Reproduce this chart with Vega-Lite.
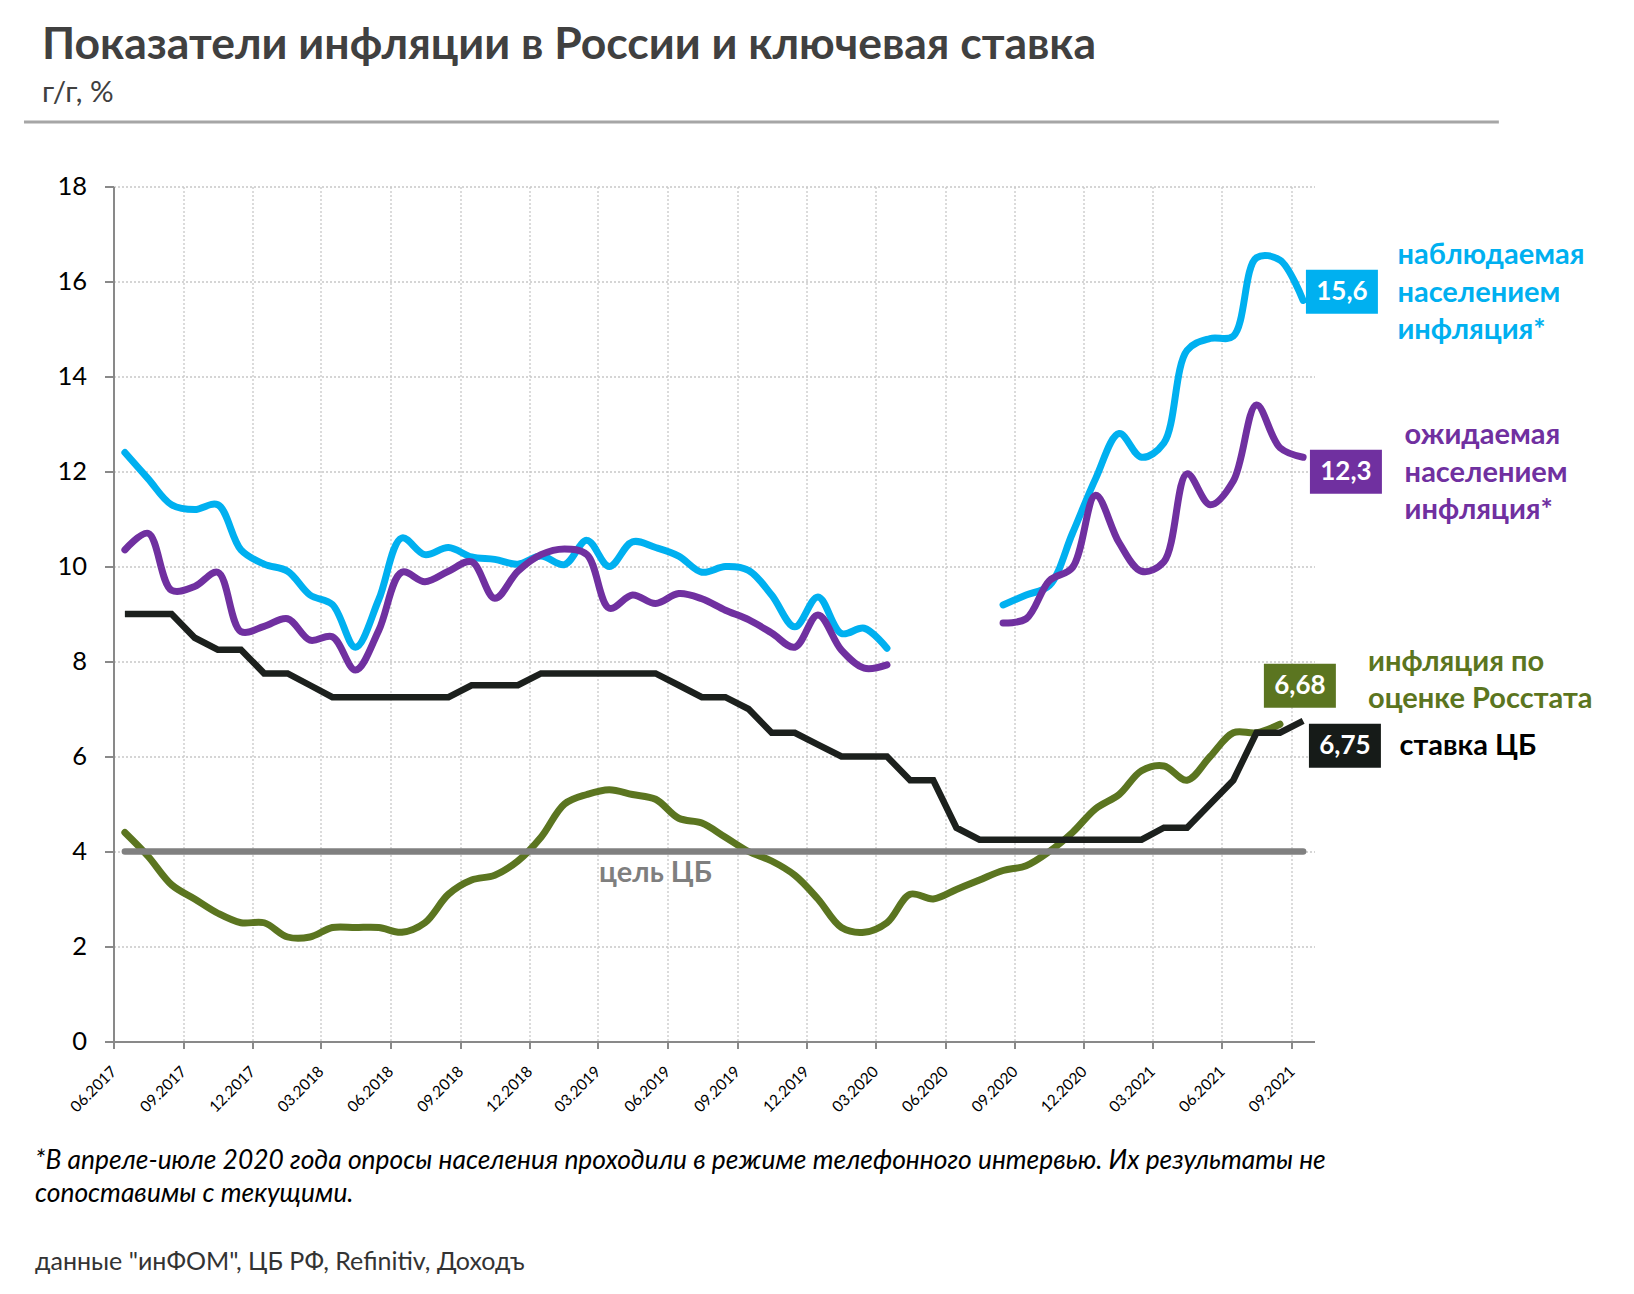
{
  "$schema": "https://vega.github.io/schema/vega-lite/v6.json",
  "autosize": {"type": "none"},
  "width": 1201,
  "height": 855,
  "padding": {"left": 113.5, "top": 186.5, "right": 319.5, "bottom": 252.5},
  "background": "white",
  "config": {"view": {"stroke": null}, "font": "Lato"},
  "title": {
    "text": "Показатели инфляции в России и ключевая ставка",
    "subtitle": "г/г, %",
    "anchor": "start",
    "frame": "group",
    "dx": -71.5,
    "offset": 12,
    "font": "Lato",
    "fontSize": 44.5,
    "fontWeight": "bold",
    "color": "#404040",
    "subtitleFont": "Lato",
    "subtitleFontSize": 29.5,
    "subtitleColor": "#404040",
    "subtitlePadding": 10
  },
  "datasets": {
    "monthly": [
      {"month":"2017-06","key":9,"cpi":4.4,"obs":12.4,"exp":10.35,"wave":1},
      {"month":"2017-07","key":9,"cpi":3.9,"obs":11.85,"exp":10.7,"wave":1},
      {"month":"2017-08","key":9,"cpi":3.3,"obs":11.3,"exp":9.5,"wave":1},
      {"month":"2017-09","key":8.5,"cpi":3.0,"obs":11.2,"exp":9.58,"wave":1},
      {"month":"2017-10","key":8.25,"cpi":2.7,"obs":11.3,"exp":9.88,"wave":1},
      {"month":"2017-11","key":8.25,"cpi":2.5,"obs":10.35,"exp":8.63,"wave":1},
      {"month":"2017-12","key":7.75,"cpi":2.5,"obs":10.05,"exp":8.74,"wave":1},
      {"month":"2018-01","key":7.75,"cpi":2.2,"obs":9.9,"exp":8.9,"wave":1},
      {"month":"2018-02","key":7.5,"cpi":2.2,"obs":9.4,"exp":8.45,"wave":1},
      {"month":"2018-03","key":7.25,"cpi":2.4,"obs":9.2,"exp":8.52,"wave":1},
      {"month":"2018-04","key":7.25,"cpi":2.4,"obs":8.3,"exp":7.82,"wave":1},
      {"month":"2018-05","key":7.25,"cpi":2.4,"obs":9.3,"exp":8.65,"wave":1},
      {"month":"2018-06","key":7.25,"cpi":2.3,"obs":10.6,"exp":9.88,"wave":1},
      {"month":"2018-07","key":7.25,"cpi":2.5,"obs":10.25,"exp":9.68,"wave":1},
      {"month":"2018-08","key":7.25,"cpi":3.1,"obs":10.4,"exp":9.9,"wave":1},
      {"month":"2018-09","key":7.5,"cpi":3.4,"obs":10.2,"exp":10.1,"wave":1},
      {"month":"2018-10","key":7.5,"cpi":3.5,"obs":10.15,"exp":9.33,"wave":1},
      {"month":"2018-11","key":7.5,"cpi":3.8,"obs":10.05,"exp":9.9,"wave":1},
      {"month":"2018-12","key":7.75,"cpi":4.3,"obs":10.22,"exp":10.25,"wave":1},
      {"month":"2019-01","key":7.75,"cpi":5.0,"obs":10.04,"exp":10.37,"wave":1},
      {"month":"2019-02","key":7.75,"cpi":5.2,"obs":10.55,"exp":10.25,"wave":1},
      {"month":"2019-03","key":7.75,"cpi":5.3,"obs":10.0,"exp":9.12,"wave":1},
      {"month":"2019-04","key":7.75,"cpi":5.2,"obs":10.52,"exp":9.4,"wave":1},
      {"month":"2019-05","key":7.75,"cpi":5.1,"obs":10.4,"exp":9.22,"wave":1},
      {"month":"2019-06","key":7.5,"cpi":4.7,"obs":10.22,"exp":9.43,"wave":1},
      {"month":"2019-07","key":7.25,"cpi":4.6,"obs":9.88,"exp":9.32,"wave":1},
      {"month":"2019-08","key":7.25,"cpi":4.3,"obs":10.0,"exp":9.08,"wave":1},
      {"month":"2019-09","key":7.0,"cpi":4.0,"obs":9.92,"exp":8.88,"wave":1},
      {"month":"2019-10","key":6.5,"cpi":3.8,"obs":9.4,"exp":8.6,"wave":1},
      {"month":"2019-11","key":6.5,"cpi":3.5,"obs":8.73,"exp":8.3,"wave":1},
      {"month":"2019-12","key":6.25,"cpi":3.0,"obs":9.36,"exp":8.98,"wave":1},
      {"month":"2020-01","key":6.0,"cpi":2.4,"obs":8.59,"exp":8.24,"wave":1},
      {"month":"2020-02","key":6.0,"cpi":2.3,"obs":8.7,"exp":7.86,"wave":1},
      {"month":"2020-03","key":6.0,"cpi":2.5,"obs":8.28,"exp":7.93,"wave":1},
      {"month":"2020-04","key":5.5,"cpi":3.1,"obs":null,"exp":null},
      {"month":"2020-05","key":5.5,"cpi":3.0,"obs":null,"exp":null},
      {"month":"2020-06","key":4.5,"cpi":3.2,"obs":null,"exp":null},
      {"month":"2020-07","key":4.25,"cpi":3.4,"obs":null,"exp":null},
      {"month":"2020-08","key":4.25,"cpi":3.6,"obs":9.19,"exp":8.81,"wave":2},
      {"month":"2020-09","key":4.25,"cpi":3.7,"obs":9.4,"exp":8.9,"wave":2},
      {"month":"2020-10","key":4.25,"cpi":4.0,"obs":9.6,"exp":9.7,"wave":2},
      {"month":"2020-11","key":4.25,"cpi":4.4,"obs":10.7,"exp":9.98,"wave":2},
      {"month":"2020-12","key":4.25,"cpi":4.9,"obs":11.85,"exp":11.5,"wave":2},
      {"month":"2021-01","key":4.25,"cpi":5.2,"obs":12.8,"exp":10.5,"wave":2},
      {"month":"2021-02","key":4.25,"cpi":5.7,"obs":12.3,"exp":9.9,"wave":2},
      {"month":"2021-03","key":4.5,"cpi":5.8,"obs":12.6,"exp":10.1,"wave":2},
      {"month":"2021-04","key":4.5,"cpi":5.5,"obs":14.55,"exp":11.95,"wave":2},
      {"month":"2021-05","key":5.0,"cpi":6.0,"obs":14.8,"exp":11.3,"wave":2},
      {"month":"2021-06","key":5.5,"cpi":6.5,"obs":14.85,"exp":11.8,"wave":2},
      {"month":"2021-07","key":6.5,"cpi":6.5,"obs":16.5,"exp":13.4,"wave":2},
      {"month":"2021-08","key":6.5,"cpi":6.68,"obs":16.45,"exp":12.5,"wave":2},
      {"month":"2021-09","key":6.75,"cpi":null,"obs":15.6,"exp":12.3,"wave":2}
    ],
    "goal": [
      {"month":"2017-06","value":4},
      {"month":"2021-09","value":4}
    ],
    "note": [
      {"month":"2019-05","value":4,"label":"цель ЦБ"}
    ],
    "labels": [
      {"series":"obs","month":"2021-09","value":15.6,"label":"15,6","name":"наблюдаемая\nнаселением\nинфляция*"},
      {"series":"exp","month":"2021-09","value":12.3,"label":"12,3","name":"ожидаемая\nнаселением\nинфляция*"},
      {"series":"cpi","month":"2021-08","value":6.68,"label":"6,68","name":"инфляция по\nоценке Росстата"},
      {"series":"key","month":"2021-09","value":6.75,"label":"6,75","name":"ставка ЦБ"}
    ]
  },
  "layer": [
    {
      "data": {"name": "monthly"},
      "encoding": {
        "x": {
          "field": "month",
          "timeUnit": "utcyearmonth",
          "type": "temporal",
          "bandPosition": 0.5,
          "scale": {"type": "utc", "domain": [{"year":2017,"month":6,"utc":true},{"year":2021,"month":10,"utc":true}]},
          "axis": {
            "values": [
              {"year":2017,"month":6,"utc":true},{"year":2017,"month":9,"utc":true},{"year":2017,"month":12,"utc":true},
              {"year":2018,"month":3,"utc":true},{"year":2018,"month":6,"utc":true},{"year":2018,"month":9,"utc":true},{"year":2018,"month":12,"utc":true},
              {"year":2019,"month":3,"utc":true},{"year":2019,"month":6,"utc":true},{"year":2019,"month":9,"utc":true},{"year":2019,"month":12,"utc":true},
              {"year":2020,"month":3,"utc":true},{"year":2020,"month":6,"utc":true},{"year":2020,"month":9,"utc":true},{"year":2020,"month":12,"utc":true},
              {"year":2021,"month":3,"utc":true},{"year":2021,"month":6,"utc":true},{"year":2021,"month":9,"utc":true}
            ],
            "format": "%m.%Y",
            "labelExpr": "utcFormat(datum.value, '%m.%Y')",
            "labelAngle": -45,
            "labelAlign": "right",
            "labelBaseline": "middle",
            "labelFont": "Lato",
            "labelFontSize": 15.5,
            "labelColor": "#000000",
            "labelPadding": 20,
            "labelOverlap": false,
            "labelFlush": false,
            "tickSize": 7,
            "tickColor": "#898989",
            "tickWidth": 2,
            "domainColor": "#898989",
            "domainWidth": 2,
            "grid": true,
            "gridColor": "#c8c8c8",
            "gridDash": [2, 2],
            "gridWidth": 1.3,
            "title": ["*В апреле-июле 2020 года опросы населения проходили в режиме телефонного интервью. Их результаты не", "сопоставимы с текущими."],
            "titleX": -79,
            "titleY": 106,
            "titleAlign": "left",
            "titleBaseline": "top",
            "titleFont": "Lato",
            "titleFontSize": 26.4,
            "titleFontStyle": "italic",
            "titleFontWeight": "normal",
            "titleColor": "#000000",
            "titleLineHeight": 33
          }
        },
        "y": {
          "field": "value",
          "type": "quantitative",
          "scale": {"domain": [0, 18], "nice": false, "zero": true},
          "axis": {
            "values": [0, 2, 4, 6, 8, 10, 12, 14, 16, 18],
            "labelFont": "Lato",
            "labelFontSize": 25.5,
            "labelColor": "#000000",
            "labelPadding": 18,
            "tickSize": 9,
            "tickColor": "#898989",
            "tickWidth": 2,
            "domainColor": "#898989",
            "domainWidth": 2,
            "grid": true,
            "gridColor": "#c8c8c8",
            "gridDash": [2, 2],
            "gridWidth": 1.3,
            "title": "данные \"инФОМ\", ЦБ РФ, Refinitiv, Доходъ",
            "titleAngle": 0,
            "titleX": -79,
            "titleY": 1074.5,
            "titleAlign": "left",
            "titleBaseline": "middle",
            "titleFont": "Lato",
            "titleFontSize": 25,
            "titleFontWeight": "normal",
            "titleColor": "#333333"
          }
        }
      },
      "layer": [
        {
          "transform": [{"fold": ["cpi"], "as": ["series", "value"]}, {"filter": "isValid(datum.value)"}],
          "mark": {"type": "line", "color": "#5b7520", "strokeWidth": 7, "interpolate": "catmull-rom", "strokeCap": "round"}
        },
        {
          "data": {"name": "goal"},
          "mark": {"type": "line", "color": "#808080", "strokeWidth": 6.5, "strokeCap": "round"}
        },
        {
          "transform": [{"fold": ["key"], "as": ["series", "value"]}, {"filter": "isValid(datum.value)"}],
          "mark": {"type": "line", "color": "#1c201d", "strokeWidth": 6.5, "interpolate": "linear"}
        },
        {
          "transform": [{"fold": ["obs"], "as": ["series", "value"]}, {"filter": "isValid(datum.value)"}],
          "mark": {"type": "line", "color": "#00b0f0", "strokeWidth": 7, "interpolate": "catmull-rom", "strokeCap": "round"},
          "encoding": {"detail": {"field": "wave", "type": "nominal"}}
        },
        {
          "transform": [{"fold": ["exp"], "as": ["series", "value"]}, {"filter": "isValid(datum.value)"}],
          "mark": {"type": "line", "color": "#7030a0", "strokeWidth": 7, "interpolate": "catmull-rom", "strokeCap": "round"},
          "encoding": {"detail": {"field": "wave", "type": "nominal"}}
        },
        {
          "data": {"name": "note"},
          "mark": {"type": "text", "color": "#7f7f7f", "font": "Lato", "fontSize": 29, "fontWeight": "bold", "align": "center", "baseline": "middle", "dy": 21.5},
          "encoding": {"text": {"field": "label"}}
        },
        {
          "data": {"name": "labels"},
          "transform": [{"filter": "datum.series == 'obs'"}],
          "mark": {"type": "point", "shape": "M-1.636,-1H1.636V1H-1.636Z", "size": 1936, "filled": true, "opacity": 1, "color": "#00b0f0", "strokeWidth": 0, "xOffset": 38.8, "yOffset": -8.7}
        },
        {
          "data": {"name": "labels"},
          "transform": [{"filter": "datum.series == 'exp'"}],
          "mark": {"type": "point", "shape": "M-1.636,-1H1.636V1H-1.636Z", "size": 1936, "filled": true, "opacity": 1, "color": "#7030a0", "strokeWidth": 0, "xOffset": 42.8, "yOffset": 14.5}
        },
        {
          "data": {"name": "labels"},
          "transform": [{"filter": "datum.series == 'cpi'"}],
          "mark": {"type": "point", "shape": "M-1.636,-1H1.636V1H-1.636Z", "size": 1936, "filled": true, "opacity": 1, "color": "#5b7520", "strokeWidth": 0, "xOffset": 19.9, "yOffset": -38.4}
        },
        {
          "data": {"name": "labels"},
          "transform": [{"filter": "datum.series == 'key'"}],
          "mark": {"type": "point", "shape": "M-1.636,-1H1.636V1H-1.636Z", "size": 1936, "filled": true, "opacity": 1, "color": "#161b18", "strokeWidth": 0, "xOffset": 41.8, "yOffset": 24.9}
        },
        {
          "data": {"name": "labels"},
          "transform": [{"filter": "datum.series == 'obs'"}],
          "mark": {"type": "text", "color": "#ffffff", "font": "Lato", "fontSize": 26, "fontWeight": "bold", "align": "center", "baseline": "middle", "dx": 38.8, "dy": -8.7},
          "encoding": {"text": {"field": "label"}}
        },
        {
          "data": {"name": "labels"},
          "transform": [{"filter": "datum.series == 'exp'"}],
          "mark": {"type": "text", "color": "#ffffff", "font": "Lato", "fontSize": 26, "fontWeight": "bold", "align": "center", "baseline": "middle", "dx": 42.8, "dy": 14.5},
          "encoding": {"text": {"field": "label"}}
        },
        {
          "data": {"name": "labels"},
          "transform": [{"filter": "datum.series == 'cpi'"}],
          "mark": {"type": "text", "color": "#ffffff", "font": "Lato", "fontSize": 26, "fontWeight": "bold", "align": "center", "baseline": "middle", "dx": 19.9, "dy": -38.4},
          "encoding": {"text": {"field": "label"}}
        },
        {
          "data": {"name": "labels"},
          "transform": [{"filter": "datum.series == 'key'"}],
          "mark": {"type": "text", "color": "#ffffff", "font": "Lato", "fontSize": 26, "fontWeight": "bold", "align": "center", "baseline": "middle", "dx": 41.8, "dy": 24.9},
          "encoding": {"text": {"field": "label"}}
        },
        {
          "data": {"name": "labels"},
          "transform": [{"filter": "datum.series == 'obs'"}],
          "mark": {"type": "text", "color": "#00b0f0", "font": "Lato", "fontSize": 29, "fontWeight": "bold", "align": "left", "baseline": "middle", "lineBreak": "\n", "lineHeight": 37.5, "dx": 94.3, "dy": -45.4},
          "encoding": {"text": {"field": "name"}}
        },
        {
          "data": {"name": "labels"},
          "transform": [{"filter": "datum.series == 'exp'"}],
          "mark": {"type": "text", "color": "#7030a0", "font": "Lato", "fontSize": 29, "fontWeight": "bold", "align": "left", "baseline": "middle", "lineBreak": "\n", "lineHeight": 37.5, "dx": 101.5, "dy": -21.9},
          "encoding": {"text": {"field": "name"}}
        },
        {
          "data": {"name": "labels"},
          "transform": [{"filter": "datum.series == 'cpi'"}],
          "mark": {"type": "text", "color": "#5b7520", "font": "Lato", "fontSize": 29, "fontWeight": "bold", "align": "left", "baseline": "middle", "lineBreak": "\n", "lineHeight": 37.5, "dx": 88, "dy": -62.7},
          "encoding": {"text": {"field": "name"}}
        },
        {
          "data": {"name": "labels"},
          "transform": [{"filter": "datum.series == 'key'"}],
          "mark": {"type": "text", "color": "#000000", "font": "Lato", "fontSize": 29, "fontWeight": "bold", "align": "left", "baseline": "middle", "dx": 96.3, "dy": 24.9},
          "encoding": {"text": {"field": "name"}}
        }
      ]
    },
    {
      "data": {"name": "note"},
      "mark": {"type": "rule", "color": "#a6a6a6", "strokeWidth": 3},
      "encoding": {
        "x": {"datum": {"year":2017,"month":2,"date":3,"utc":true}, "type": "temporal", "scale": {"type": "utc"}},
        "x2": {"datum": {"year":2022,"month":6,"date":1,"utc":true}},
        "y": {"datum": 19.36, "type": "quantitative"}
      }
    }
  ]
}
